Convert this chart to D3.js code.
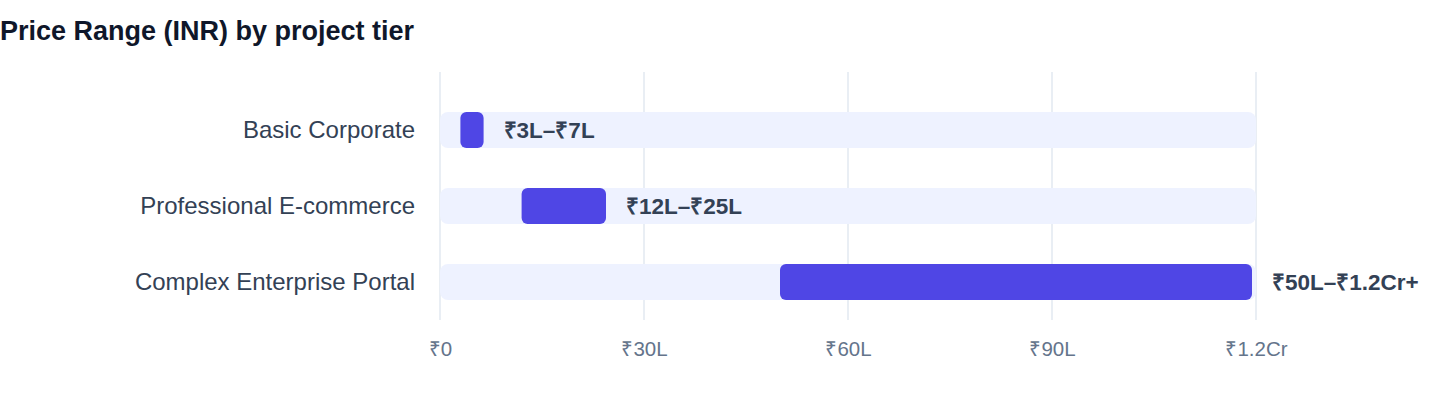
<!DOCTYPE html>
<html>
<head>
<meta charset="utf-8">
<script src="https://cdn.jsdelivr.net/npm/d3@7"></script>
<style>
  body { margin: 0; background: #fff; }
  svg { display: block; font-family: "Liberation Sans", Arial, Helvetica, sans-serif; }
</style>
</head>
<body>
<div id="wrapper"></div>
<script>
// data (values in lakh INR)
const tiers = ["Basic Corporate", "Professional E-commerce", "Complex Enterprise Portal"];
const lowValues = [3, 12, 50];
const highValues = [7, 25, 120];
const rangeLabels = ["₹3L–₹7L", "₹12L–₹25L", "₹50L–₹1.2Cr+"];
const tickValues = [0, 30, 60, 90, 120];
const tickLabels = ["₹0", "₹30L", "₹60L", "₹90L", "₹1.2Cr"];

const dimensions = {
    width: 1440,
    height: 408,
    margins: { top: 72, right: 184, bottom: 88, left: 440 }
};
dimensions.boundedWidth = dimensions.width - dimensions.margins.left - dimensions.margins.right;
dimensions.boundedHeight = dimensions.height - dimensions.margins.top - dimensions.margins.bottom;

const svg = d3.select("#wrapper")
    .append("svg")
        .attr("width", dimensions.width)
        .attr("height", dimensions.height);

// title
svg.append("text")
    .attr("x", 0)
    .attr("y", 40)
    .attr("fill", "#0f172a")
    .style("font-size", "27px")
    .style("font-weight", "700")
    .text("Price Range (INR) by project tier");

const bounds = svg.append("g")
    .attr("transform", `translate(${dimensions.margins.left},${dimensions.margins.top})`);

const xScale = d3.scaleLinear()
    .domain([0, 120])
    .range([0, dimensions.boundedWidth]);

// row centres
const yScale = d3.scalePoint()
    .domain(tiers)
    .range([58, 210]);

const rows = tiers.map((t, i) => ({ tier: t, lo: lowValues[i], hi: highValues[i], label: rangeLabels[i] }));

// grid lines
bounds.append("g")
    .selectAll("line")
    .data(tickValues)
    .join("line")
        .attr("x1", d => xScale(d))
        .attr("x2", d => xScale(d))
        .attr("y1", 0)
        .attr("y2", 248)
        .attr("stroke", "#e2e8f0")
        .attr("stroke-width", 1.5);

// x axis labels
const xAxis = d3.axisBottom(xScale)
    .tickValues(tickValues)
    .tickFormat((d, i) => tickLabels[i])
    .tickSize(0)
    .tickPadding(0);
const xAxisGroup = bounds.append("g")
    .attr("transform", "translate(0,269)")
    .call(xAxis);
xAxisGroup.select(".domain").remove();
xAxisGroup.selectAll("text")
    .attr("fill", "#64748b")
    .style("font-size", "20.5px")
    .style("font-family", "\"Liberation Sans\", Arial, sans-serif");

// tracks
const bandH = 36;
const rowY = d => yScale(d.tier) - bandH / 2;

bounds.append("g")
    .selectAll("rect")
    .data(rows)
    .join("rect")
        .attr("x", xScale(0))
        .attr("y", rowY)
        .attr("width", xScale(120) - xScale(0))
        .attr("height", bandH)
        .attr("rx", 8)
        .attr("fill", "#eef2ff");

// range bars
bounds.append("g")
    .selectAll("rect")
    .data(rows)
    .join("rect")
        .attr("x", d => xScale(d.lo))
        .attr("y", rowY)
        .attr("width", d => xScale(d.hi) - xScale(d.lo) - 4)
        .attr("height", bandH)
        .attr("rx", 6)
        .attr("fill", "#4f46e5");

// value labels
bounds.append("g")
    .selectAll("text")
    .data(rows)
    .join("text")
        .attr("x", d => xScale(d.hi) + 16)
        .attr("y", d => yScale(d.tier))
        .attr("dy", "0.35em")
        .attr("fill", "#334155")
        .style("font-size", "22.5px")
        .style("font-weight", "700")
        .text(d => d.label);

// category labels
bounds.append("g")
    .selectAll("text")
    .data(rows)
    .join("text")
        .attr("x", -25)
        .attr("y", d => yScale(d.tier))
        .attr("dy", "0.35em")
        .attr("text-anchor", "end")
        .attr("fill", "#334155")
        .style("font-size", "24px")
        .text(d => d.tier);
</script>
</body>
</html>
